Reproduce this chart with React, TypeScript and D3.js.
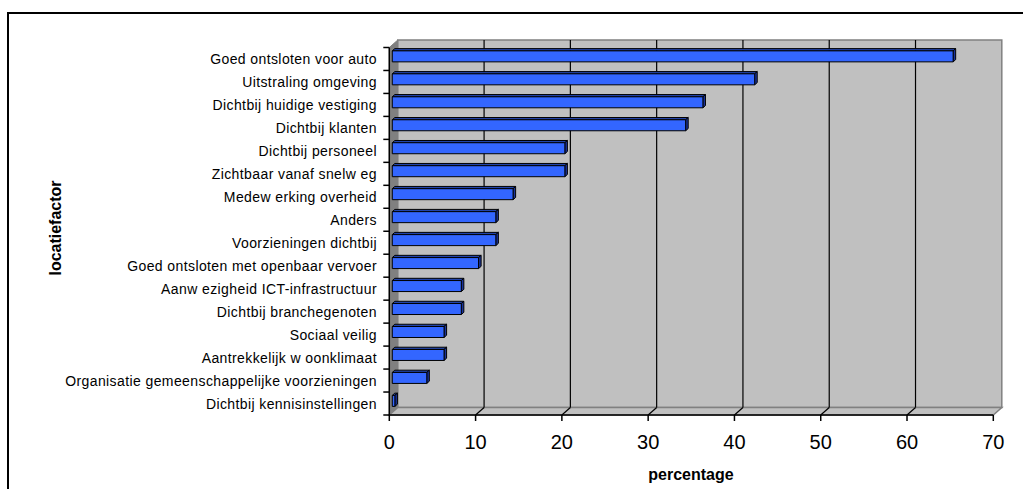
import React from "react";
import * as d3 from "d3";

// Location factors and share of respondents (%)
const categories = [
  "Goed ontsloten voor auto",
  "Uitstraling omgeving",
  "Dichtbij huidige vestiging",
  "Dichtbij klanten",
  "Dichtbij personeel",
  "Zichtbaar vanaf snelw eg",
  "Medew erking overheid",
  "Anders",
  "Voorzieningen dichtbij",
  "Goed ontsloten met openbaar vervoer",
  "Aanw ezigheid ICT-infrastructuur",
  "Dichtbij branchegenoten",
  "Sociaal veilig",
  "Aantrekkelijk w oonklimaat",
  "Organisatie gemeenschappelijke voorzieningen",
  "Dichtbij kennisinstellingen",
];
const values = [65, 42, 36, 34, 20, 20, 14, 12, 12, 10, 8, 8, 6, 6, 4, 0.3];
const xTicks = [0, 10, 20, 30, 40, 50, 60, 70];
const gridValues = [10, 20, 30, 40, 50, 60];

const FONT = "'Liberation Sans', Arial, Helvetica, sans-serif";

export default function App() {
  // plot geometry (front plane) and 3D depth offset
  const left = 389.3;
  const right = 993.3;
  const top = 47.5;
  const bottom = 415;
  const dx = 8.5;
  const dy = 7.5;

  const x = d3.scaleLinear().domain([0, 70]).range([left, right]);
  const y = d3.scaleBand<string>().domain(categories).range([top, bottom]).padding(0);

  const barH = 11;
  const d0 = 0.35;
  const d1 = 0.65;
  const ddx = (d1 - d0) * dx;
  const ddy = (d1 - d0) * dy;

  const bw = y.bandwidth();
  const boundaries = d3.range(categories.length + 1).map((i) => top + i * bw);

  const pts = (p: [number, number][]) => p.map((q) => q.join(",")).join(" ");

  return (
    <svg
      width={1023}
      height={489}
      style={{ position: "absolute", left: 0, top: 0, background: "#ffffff" }}
    >
      <rect x={0} y={0} width={1023} height={489} fill="#ffffff" />
      {/* chart border */}
      <rect x={8} y={13} width={1040} height={520} fill="none" stroke="#000" strokeWidth={2} />

      {/* side wall */}
      <polygon
        points={pts([
          [left, top],
          [left + dx, top - dy],
          [left + dx, bottom - dy],
          [left, bottom],
        ])}
        fill="#808080"
        stroke="#808080"
      />
      {/* back wall */}
      <rect
        x={left + dx}
        y={top - dy}
        width={right - left}
        height={bottom - top}
        fill="#c0c0c0"
        stroke="#808080"
        strokeWidth={1.5}
      />
      {/* floor */}
      <polygon
        points={pts([
          [left, bottom],
          [right, bottom],
          [right + dx, bottom - dy],
          [left + dx, bottom - dy],
        ])}
        fill="#c0c0c0"
        stroke="#808080"
        strokeWidth={1.5}
      />

      {/* gridlines on wall and floor */}
      {gridValues.map((v) => (
        <g key={v}>
          <line
            x1={x(v) + dx}
            x2={x(v) + dx}
            y1={top - dy}
            y2={bottom - dy}
            stroke="#000"
            strokeWidth={1.2}
          />
          <line
            x1={x(v)}
            y1={bottom}
            x2={x(v) + dx}
            y2={bottom - dy}
            stroke="#000"
            strokeWidth={1.2}
          />
        </g>
      ))}

      {/* bars */}
      {categories.map((c, i) => {
        const yc = (y(c) as number) + bw / 2;
        const x0 = x(0) + d0 * dx;
        const x1 = x(values[i]) + d0 * dx;
        const yt = yc - barH / 2 - d0 * dy;
        const yb = yc + barH / 2 - d0 * dy;
        return (
          <g key={c} stroke="#000" strokeWidth={1} strokeLinejoin="round">
            <polygon
              points={pts([
                [x0, yt],
                [x1, yt],
                [x1 + ddx, yt - ddy],
                [x0 + ddx, yt - ddy],
              ])}
              fill="#2244aa"
            />
            <polygon
              points={pts([
                [x1, yt],
                [x1 + ddx, yt - ddy],
                [x1 + ddx, yb - ddy],
                [x1, yb],
              ])}
              fill="#1a3399"
            />
            <rect x={x0} y={yt} width={x1 - x0} height={barH} fill="#3366ff" />
          </g>
        );
      })}

      {/* category axis */}
      <line x1={left} x2={left} y1={top} y2={bottom} stroke="#000" strokeWidth={1.5} />
      {boundaries.map((b, i) => (
        <line key={i} x1={left - 6} x2={left} y1={b} y2={b} stroke="#000" strokeWidth={1.5} />
      ))}
      {categories.map((c) => (
        <text
          key={c}
          x={377}
          y={(y(c) as number) + bw / 2 + 5}
          textAnchor="end"
          fontFamily={FONT}
          fontSize={14}
          letterSpacing={0.4}
          fill="#000"
        >
          {c}
        </text>
      ))}

      {/* value axis */}
      <line x1={left} x2={right} y1={bottom} y2={bottom} stroke="#000" strokeWidth={1.5} />
      {xTicks.map((t) => (
        <g key={t}>
          <line x1={x(t)} x2={x(t)} y1={bottom} y2={bottom + 6} stroke="#000" strokeWidth={1.5} />
          <text
            x={x(t)}
            y={449}
            textAnchor="middle"
            fontFamily={FONT}
            fontSize={20}
            fill="#000"
          >
            {t}
          </text>
        </g>
      ))}

      {/* axis titles */}
      <text
        x={691}
        y={480}
        textAnchor="middle"
        fontFamily={FONT}
        fontSize={16}
        fontWeight="bold"
        fill="#000"
      >
        percentage
      </text>
      <text
        transform="translate(61,228) rotate(-90)"
        textAnchor="middle"
        fontFamily={FONT}
        fontSize={16}
        fontWeight="bold"
        fill="#000"
      >
        locatiefactor
      </text>
    </svg>
  );
}
